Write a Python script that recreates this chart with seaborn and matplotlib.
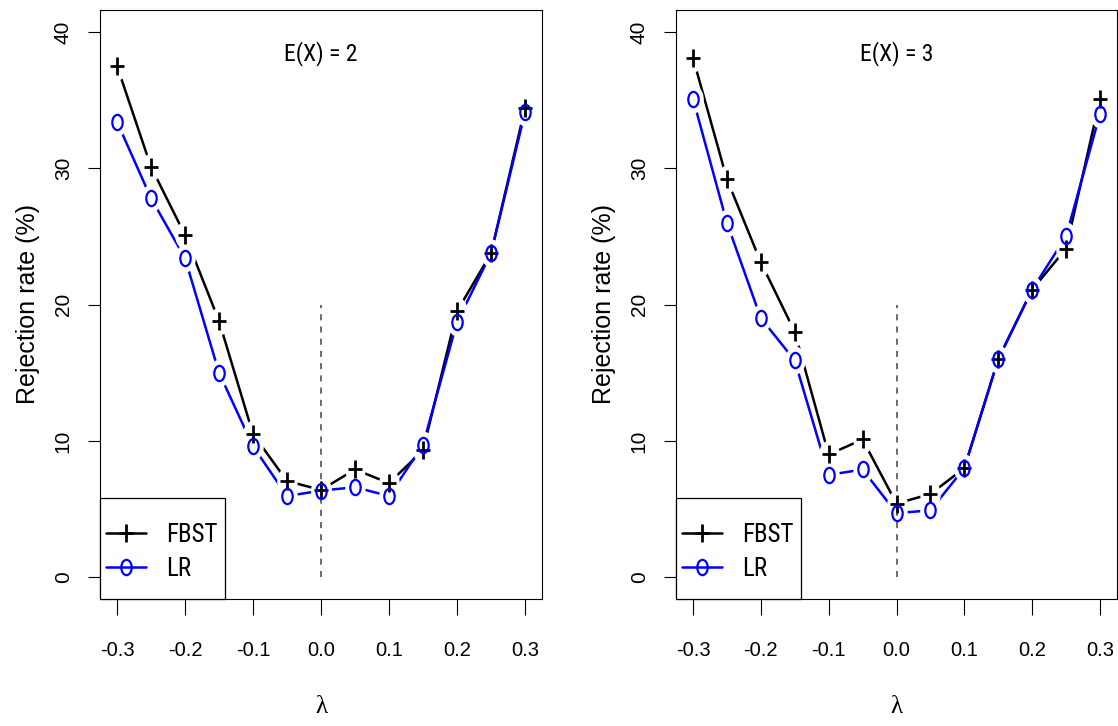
import seaborn as sns
import matplotlib.pyplot as plt
import pandas as pd
import numpy as np
from matplotlib.path import Path
from matplotlib.lines import Line2D
from matplotlib.patches import Rectangle

# lambda values and rejection rates (%)
lam = [-0.3, -0.25, -0.2, -0.15, -0.1, -0.05, 0.0, 0.05, 0.1, 0.15, 0.2, 0.25, 0.3]
fbst_ex2 = [37.5, 30.1, 25.1, 18.8, 10.5, 7.05, 6.4, 7.9, 6.9, 9.3, 19.5, 23.75, 34.4]
lr_ex2 = [33.4, 27.8, 23.4, 15.0, 9.6, 5.95, 6.35, 6.6, 5.95, 9.7, 18.7, 23.75, 34.1]
fbst_ex3 = [38.1, 29.2, 23.1, 18.0, 9.0, 10.1, 5.4, 6.1, 8.0, 16.0, 21.1, 24.1, 35.1]
lr_ex3 = [35.1, 26.0, 19.0, 15.9, 7.5, 7.9, 4.7, 4.9, 8.0, 16.0, 21.1, 25.0, 34.0]
titles = ['E(X) = 2', 'E(X) = 3']
xticks = [-0.3, -0.2, -0.1, 0.0, 0.1, 0.2, 0.3]
xticklabels = ['-0.3', '-0.2', '-0.1', '0.0', '0.1', '0.2', '0.3']
yticks = [0, 10, 20, 30, 40]

sns.set_theme(style='white', rc={'axes.edgecolor': 'black', 'axes.linewidth': 0.8,
                                 'xtick.color': 'black', 'ytick.color': 'black',
                                 'text.color': 'black', 'axes.labelcolor': 'black'})
plt.rcParams['font.family'] = ['Liberation Sans', 'DejaVu Sans']
narrow = ['Roboto Condensed', 'Liberation Sans Narrow', 'Liberation Sans']

# marker shapes: a slightly squat plus and a tall letter-like "o"
plus = Path([(-0.38, 0), (0.38, 0), (0, -0.5), (0, 0.5)],
            [Path.MOVETO, Path.LINETO, Path.MOVETO, Path.LINETO])
circ = Path.unit_circle()
oval = Path(circ.vertices * np.array([0.68, 1.0]), circ.codes)
halo = Path(circ.vertices * np.array([0.74, 1.0]), circ.codes)

fig = plt.figure(figsize=(11.18, 7.26), dpi=100)
W, H = 1118, 726
ax1 = fig.add_axes([100 / W, (H - 599) / H, 442 / W, 589 / H])
ax2 = fig.add_axes([676 / W, (H - 599) / H, 441 / W, 589 / H])

panels = [(ax1, fbst_ex2, lr_ex2, titles[0]), (ax2, fbst_ex3, lr_ex3, titles[1])]
for ax, fb, lr, title in panels:
    df = pd.DataFrame({'lam': lam, 'FBST': fb, 'LR': lr})
    for col, colr in [('FBST', 'black'), ('LR', 'blue')]:
        sns.lineplot(data=df, x='lam', y=col, ax=ax, color=colr, lw=1.8, zorder=2)
    # white gaps around points, like R type="b"
    for col in ['FBST', 'LR']:
        ax.scatter(df['lam'], df[col], marker=halo, s=20 ** 2, color='white',
                   linewidths=0, zorder=3)
    ax.vlines(0, 0, 20, colors='#444444', linestyles=(0, (4, 4)), lw=1.1, zorder=3.5)
    ax.plot(df['lam'], df['FBST'], ls='none', marker=plus, ms=12.5, mec='black',
            mew=2.0, zorder=4)
    ax.plot(df['lam'], df['LR'], ls='none', marker=oval, ms=11, mfc='none', mec='blue',
            mew=1.6, zorder=4)

    ax.set_xlim(-0.325, 0.325)
    ax.set_ylim(-1.6, 41.6)
    ax.set_xticks(xticks)
    ax.set_xticklabels(xticklabels)
    ax.set_yticks(yticks)
    ax.set_yticklabels([str(v) for v in yticks], rotation=90, va='center')
    ax.tick_params(axis='x', bottom=True, length=11.5, width=0.8, pad=19, labelsize=14.5)
    ax.tick_params(axis='y', left=True, length=8.6, width=0.8, pad=11, labelsize=15)
    ax.set_xlabel('λ', fontsize=18, family='Liberation Serif')
    ax.xaxis.set_label_coords(0.5, -97 / 589)
    ax.set_ylabel('Rejection rate (%)', fontsize=18)
    ax.yaxis.set_label_coords(-60 / 442, 0.5)
    for s in ax.spines.values():
        s.set_visible(True)
        s.set_color('black')
        s.set_linewidth(0.8)

    ax.text(0.5, 1 - 44 / 589, title, transform=ax.transAxes, ha='center', va='center',
            fontsize=17, family=narrow)

    # legend box in the bottom-left corner
    bw, bh = 125 / 442, 101 / 589
    ax.add_patch(Rectangle((0, 0), bw, bh, transform=ax.transAxes, facecolor='white',
                           edgecolor='black', lw=0.9, zorder=5, clip_on=False))
    handles = [Line2D([], [], color='black', lw=1.8, marker=plus, markersize=12.5,
                      markeredgewidth=2.0),
               Line2D([], [], color='blue', lw=1.8, marker=oval, markersize=11,
                      markerfacecolor='none', markeredgewidth=1.6)]
    leg = ax.legend(handles, ['FBST', 'LR'], loc='center left',
                    bbox_to_anchor=(0.0, (50.5 - 3) / 589), borderaxespad=0,
                    frameon=False, handlelength=1.6, handletextpad=0.78, labelspacing=0.4,
                    borderpad=0.25, prop={'family': narrow, 'size': 18})
    leg.set_zorder(6)

fig.savefig('out.png', dpi=100)
